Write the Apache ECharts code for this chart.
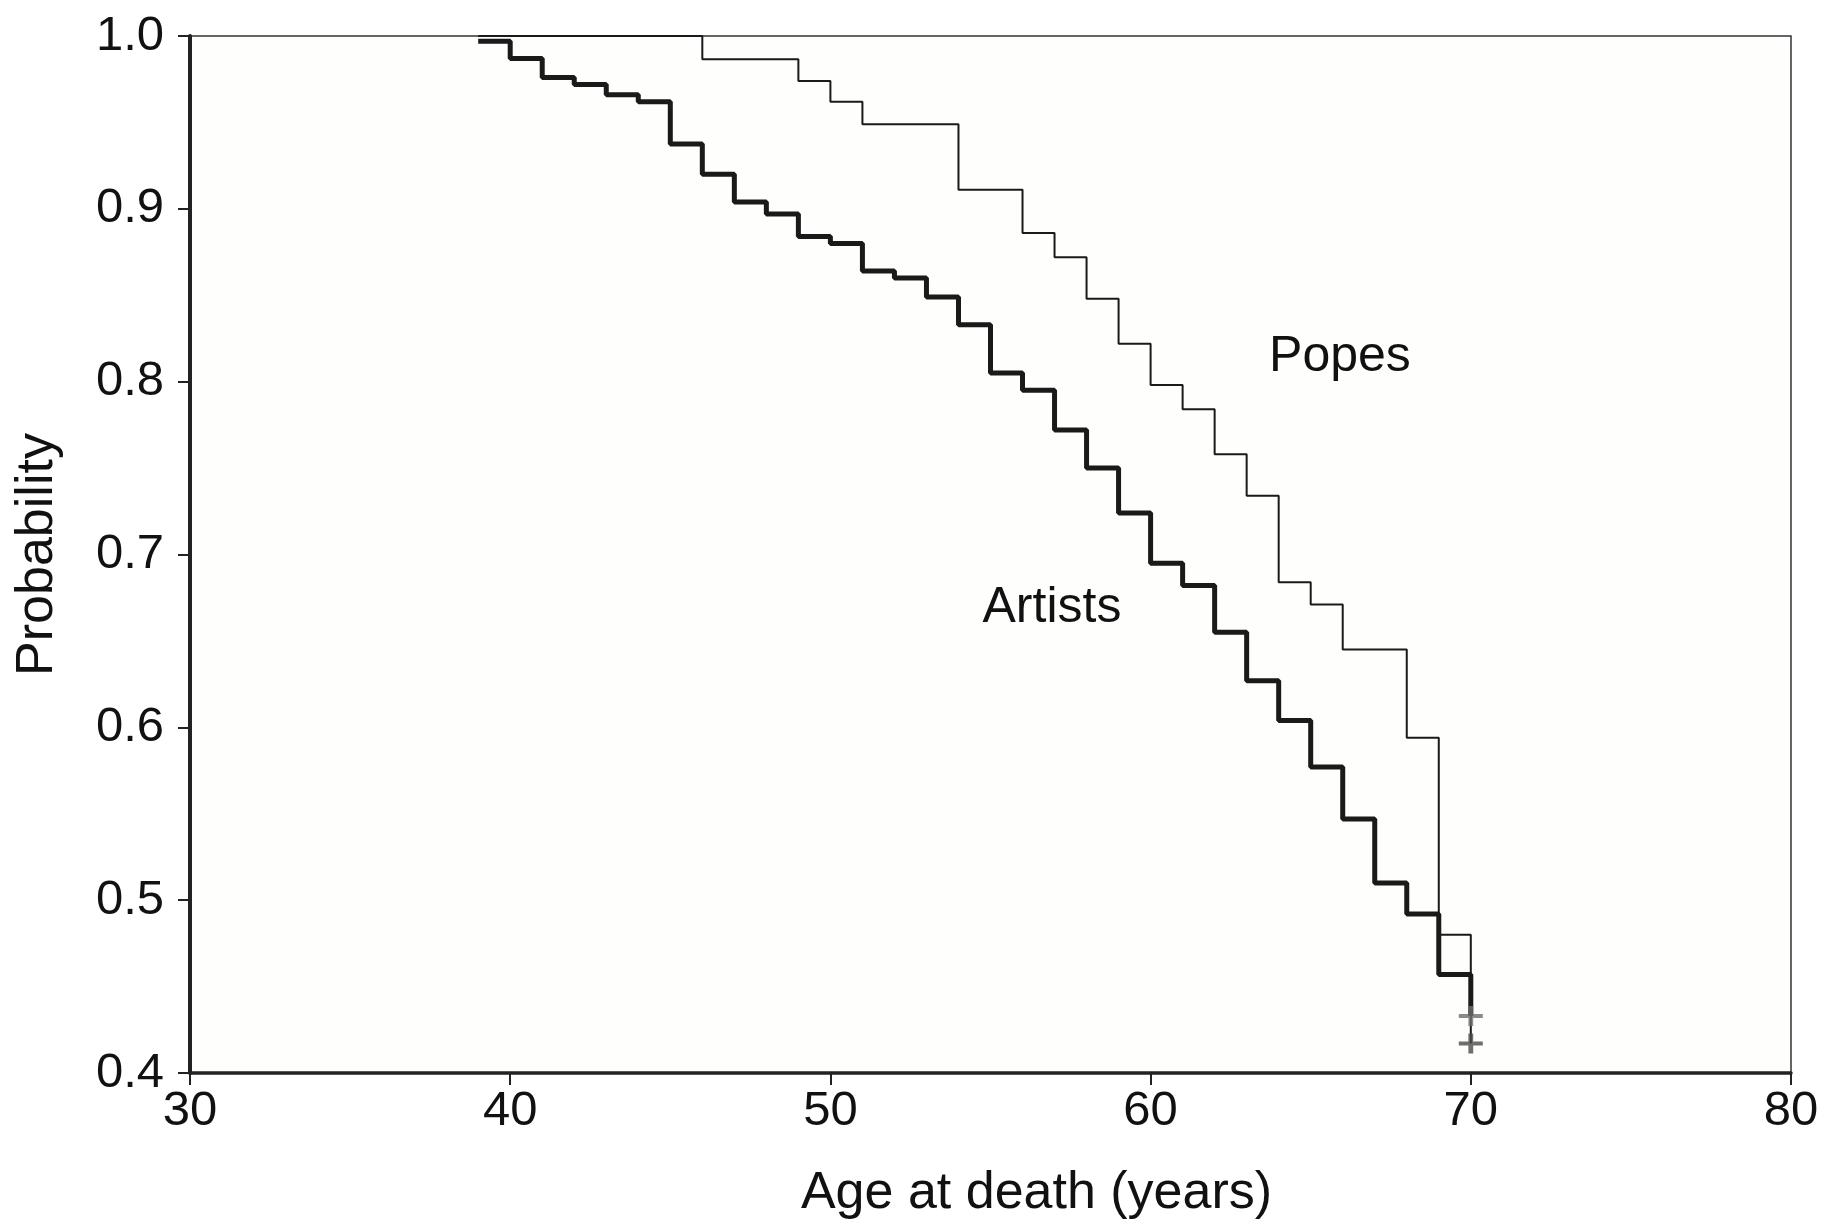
<!DOCTYPE html>
<html>
<head>
<meta charset="utf-8">
<script src="https://cdn.jsdelivr.net/npm/echarts@6/dist/echarts.min.js"></script>
<style>
  html, body { margin: 0; padding: 0; background: #ffffff; }
  #chart { width: 1829px; height: 1224px; }
</style>
</head>
<body>
<div id="chart"></div>
<script>
// survival curves (age at death, probability)
const artistAges = [39, 40, 41, 42, 43, 44, 45, 46, 47, 48, 49, 50, 51, 52, 53, 54, 55, 56, 57, 58, 59, 60, 61, 62, 63, 64, 65, 66, 67, 68, 69, 70]
const artistProb = [0.997, 0.987, 0.976, 0.972, 0.966, 0.962, 0.9375, 0.920, 0.904, 0.897, 0.884, 0.880, 0.864, 0.860, 0.849, 0.833, 0.805, 0.795, 0.772, 0.750, 0.724, 0.695, 0.682, 0.655, 0.627, 0.604, 0.577, 0.547, 0.510, 0.492, 0.457, 0.433]

const popeAges = [39, 46, 49, 50, 51, 54, 56, 57, 58, 59, 60, 61, 62, 63, 64, 65, 66, 68, 69, 70]
const popeProb = [1.0, 0.9865, 0.974, 0.962, 0.949, 0.911, 0.886, 0.872, 0.848, 0.822, 0.798, 0.784, 0.758, 0.734, 0.684, 0.671, 0.645, 0.594, 0.480, 0.417]

// censored observations (+ marks)
const artistCensorAge = [70]
const artistCensorProb = [0.433]
const popeCensorAge = [70]
const popeCensorProb = [0.417]

const xTicks = [30, 40, 50, 60, 70, 80]
const yTicks = [0.4, 0.5, 0.6, 0.7, 0.8, 0.9, 1.0]

const zip = (a, b) => a.map((v, i) => [v, b[i]])
const font = 'Liberation Sans, Arial, Helvetica, sans-serif'
const plus = 'path://M0,4 L4,4 L4,0 L6,0 L6,4 L10,4 L10,6 L6,6 L6,10 L4,10 L4,6 L0,6 Z'

const chart = echarts.init(document.getElementById('chart'))
chart.setOption({
  animation: false,
  backgroundColor: '#ffffff',
  textStyle: { fontFamily: font, color: '#111' },
  grid: {
    left: 190, right: 38, top: 36, bottom: 151,
    outerBoundsMode: 'none',
    show: true, borderColor: '#333', borderWidth: 1.5, backgroundColor: '#fefefd'
  },
  xAxis: {
    type: 'value',
    min: xTicks[0], max: xTicks[xTicks.length - 1], interval: 10,
    name: 'Age at death (years)',
    nameLocation: 'middle',
    nameGap: 95,
    nameTextStyle: { fontSize: 52, color: '#111', fontFamily: font, padding: [0, 0, 0, 92] },
    axisLine: { show: true, lineStyle: { color: '#222', width: 3.5 } },
    axisTick: { show: true, length: 12, lineStyle: { color: '#222', width: 2 } },
    axisLabel: { fontSize: 49, color: '#111', margin: 14, fontFamily: font },
    splitLine: { show: false }
  },
  yAxis: {
    type: 'value',
    min: yTicks[0], max: yTicks[yTicks.length - 1], interval: 0.1,
    name: 'Probability',
    nameLocation: 'middle',
    nameRotate: 90,
    nameGap: 126,
    nameTextStyle: { fontSize: 52, color: '#111', fontFamily: font },
    axisLine: { show: true, lineStyle: { color: '#222', width: 4 } },
    axisTick: { show: true, length: 12, lineStyle: { color: '#222', width: 2 } },
    axisLabel: { fontSize: 49, color: '#111', margin: 26, fontFamily: font, formatter: v => v.toFixed(1) },
    splitLine: { show: false }
  },
  series: [
    {
      name: 'Popes',
      type: 'line',
      step: 'end',
      data: zip(popeAges, popeProb),
      showSymbol: false,
      lineStyle: { color: '#1a1a1a', width: 2 },
      z: 3,
      markPoint: {
        symbol: 'circle', symbolSize: 0,
        label: { show: true, position: 'right', distance: 0, formatter: 'Popes', fontSize: 50, color: '#111', fontFamily: font },
        data: [{ coord: [63.7, 0.814] }]
      }
    },
    {
      name: 'Artists',
      type: 'line',
      step: 'end',
      data: zip(artistAges, artistProb),
      showSymbol: false,
      lineStyle: { color: '#1a1a1a', width: 5 },
      z: 4,
      markPoint: {
        symbol: 'circle', symbolSize: 0,
        label: { show: true, position: 'right', distance: 0, formatter: 'Artists', fontSize: 50, color: '#111', fontFamily: font },
        data: [{ coord: [54.75, 0.669] }]
      }
    },
    {
      name: 'Artists censored',
      type: 'scatter',
      data: zip(artistCensorAge, artistCensorProb),
      symbol: plus,
      symbolSize: [24, 20],
      itemStyle: { color: '#6e6e6e' },
      z: 5
    },
    {
      name: 'Popes censored',
      type: 'scatter',
      data: zip(popeCensorAge, popeCensorProb),
      symbol: plus,
      symbolSize: [24, 20],
      itemStyle: { color: '#4a4a4a' },
      z: 5
    }
  ]
})
</script>
</body>
</html>
